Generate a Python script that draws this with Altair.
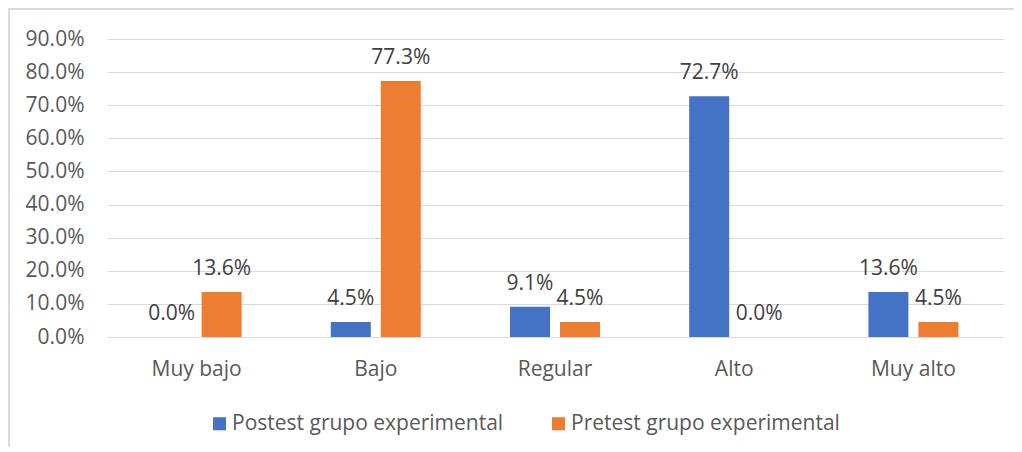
import altair as alt
import pandas as pd

categories = ["Muy bajo", "Bajo", "Regular", "Alto", "Muy alto"]
series = ["Postest grupo experimental", "Pretest grupo experimental"]
postest = [0.0, 4.5, 9.1, 72.7, 13.6]
pretest = [13.6, 77.3, 4.5, 0.0, 4.5]
y_ticks = [0, 10, 20, 30, 40, 50, 60, 70, 80, 90]
colors = ["#4472C4", "#ED7D31"]

rows = []
for i, c in enumerate(categories):
    rows.append({"cat": c, "serie": series[0], "val": postest[i]})
    rows.append({"cat": c, "serie": series[1], "val": pretest[i]})
df = pd.DataFrame(rows)

FONT = "Open Sans"
TXT = "#595959"
FS = 21

base = alt.Chart(df).transform_calculate(
    lab="format(datum.val, '.1f') + '%'"
)

x_enc = alt.X("cat:N", sort=categories, title=None,
              scale=alt.Scale(paddingInner=0, paddingOuter=0),
              axis=alt.Axis(domain=False, ticks=False, labelAngle=0,
                            labelPadding=21, labelFontSize=FS, labelColor=TXT,
                            labelFont=FONT, grid=False))
xo_enc = alt.XOffset("serie:N", sort=series,
                     scale=alt.Scale(paddingInner=0.2, paddingOuter=0.892))
y_enc = alt.Y("val:Q", title=None,
              scale=alt.Scale(domain=[0, 90], nice=False),
              axis=alt.Axis(values=y_ticks, domain=False, ticks=False,
                            labelOverlap=False,
                            labelExpr="format(datum.value, '.1f') + '%'",
                            labelPadding=23, labelFontSize=FS, labelColor=TXT,
                            labelFont=FONT, gridColor="#d9d9d9", gridWidth=1.2))

bars = base.mark_bar().encode(
    x=x_enc, xOffset=xo_enc, y=y_enc,
    color=alt.Color("serie:N", sort=series,
                    scale=alt.Scale(domain=series, range=colors),
                    legend=alt.Legend(title=None, orient="none", direction="horizontal",
                                      legendX=102, legendY=374,
                                      symbolType="square", symbolSize=170,
                                      symbolStrokeWidth=0, labelLimit=0,
                                      labelFontSize=FS, labelColor=TXT, labelFont=FONT,
                                      labelOffset=2, columnPadding=44))
)

texts = base.mark_text(baseline="alphabetic", dy=-17, fontSize=FS, font=FONT,
                       color="#404040").encode(
    x=x_enc, xOffset=xo_enc, y=y_enc, text="lab:N"
)

frame_top = alt.Chart(df).mark_rule(color="#d9d9d9", strokeWidth=1.5).encode(
    x=alt.value(-99), x2=alt.value(1100), y=alt.value(-30)
)
frame_left = alt.Chart(df).mark_rule(color="#d9d9d9", strokeWidth=1.5).encode(
    x=alt.value(-98.5), y=alt.value(-30), y2=alt.value(500)
)

chart = alt.layer(bars, texts, frame_top, frame_left).properties(
    width=896, height=298,
    autosize=alt.AutoSizeParams(type="none"),
    padding={"left": 99, "top": 31, "right": 11, "bottom": 110},
).configure_view(stroke=None)

chart.save("out.html", embed_options={"renderer": "svg", "actions": False})
